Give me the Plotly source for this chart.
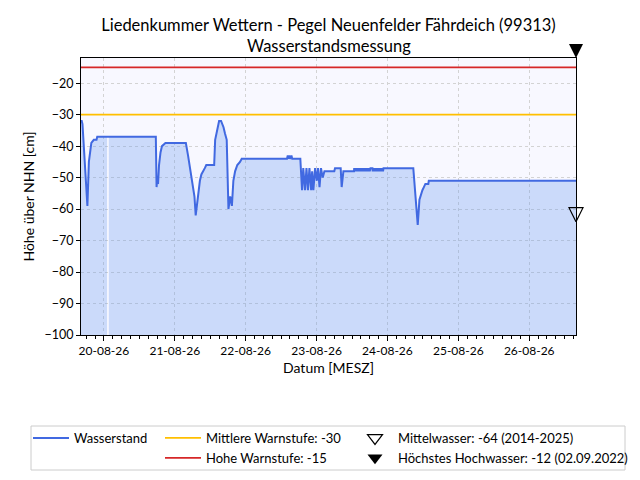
import plotly.graph_objects as go

# ---------------- data ----------------
zeit = [
    "2026-08-19 16:15", "2026-08-19 16:30", "2026-08-19 16:45", "2026-08-19 18:25",
    "2026-08-19 18:55", "2026-08-19 19:15", "2026-08-19 19:45", "2026-08-19 20:35",
    "2026-08-19 21:30", "2026-08-19 21:45",
    "2026-08-20 01:05", "2026-08-20 01:20", "2026-08-20 01:40",
    "2026-08-20 17:35", "2026-08-20 17:50", "2026-08-20 18:00", "2026-08-20 18:20",
    "2026-08-20 18:40", "2026-08-20 19:10", "2026-08-20 19:40", "2026-08-20 20:50",
    "2026-08-21 03:45", "2026-08-21 04:30", "2026-08-21 05:30", "2026-08-21 06:15",
    "2026-08-21 06:40", "2026-08-21 07:05", "2026-08-21 07:50", "2026-08-21 08:30",
    "2026-08-21 09:00", "2026-08-21 09:40", "2026-08-21 10:10", "2026-08-21 10:40",
    "2026-08-21 13:20", "2026-08-21 13:40", "2026-08-21 14:15", "2026-08-21 15:00",
    "2026-08-21 15:40", "2026-08-21 16:30", "2026-08-21 17:00", "2026-08-21 17:35",
    "2026-08-21 18:10", "2026-08-21 18:45", "2026-08-21 19:20", "2026-08-21 19:50",
    "2026-08-21 20:25", "2026-08-21 21:10", "2026-08-21 22:05", "2026-08-21 22:40",
    "2026-08-22 14:00", "2026-08-22 14:15", "2026-08-22 14:30", "2026-08-22 14:45",
    "2026-08-22 15:00", "2026-08-22 15:15", "2026-08-22 15:30", "2026-08-22 15:45",
    "2026-08-22 18:30", "2026-08-22 19:05", "2026-08-22 19:30", "2026-08-22 20:05",
    "2026-08-22 20:35", "2026-08-22 21:05", "2026-08-22 21:35", "2026-08-22 22:10",
    "2026-08-22 22:30", "2026-08-22 22:55", "2026-08-22 23:30",
    "2026-08-23 00:05", "2026-08-23 00:30", "2026-08-23 01:00", "2026-08-23 01:30",
    "2026-08-23 02:05", "2026-08-23 02:40", "2026-08-23 06:00", "2026-08-23 06:15",
    "2026-08-23 08:10", "2026-08-23 08:30", "2026-08-23 09:05", "2026-08-23 12:40",
    "2026-08-23 12:45", "2026-08-23 13:00", "2026-08-23 13:15", "2026-08-23 13:30",
    "2026-08-23 13:45", "2026-08-23 14:00", "2026-08-23 14:15", "2026-08-23 14:30",
    "2026-08-23 14:45", "2026-08-23 15:00", "2026-08-23 15:15", "2026-08-23 15:30",
    "2026-08-23 15:45", "2026-08-23 16:00", "2026-08-23 16:15", "2026-08-23 16:30",
    "2026-08-23 16:45", "2026-08-23 17:00", "2026-08-23 17:15", "2026-08-23 17:30",
    "2026-08-23 17:45", "2026-08-23 18:00", "2026-08-23 18:15", "2026-08-23 18:55",
    "2026-08-23 19:00", "2026-08-23 19:15", "2026-08-23 19:30", "2026-08-23 19:45",
    "2026-08-23 20:00", "2026-08-23 20:15", "2026-08-23 20:30", "2026-08-23 20:45",
    "2026-08-23 21:00", "2026-08-23 21:15", "2026-08-23 21:30", "2026-08-23 21:45",
    "2026-08-23 22:00", "2026-08-23 22:15", "2026-08-23 22:30", "2026-08-23 22:40",
    "2026-08-24 08:45", "2026-08-24 09:20", "2026-08-24 10:15", "2026-08-24 10:50",
    "2026-08-24 11:20", "2026-08-24 11:50", "2026-08-24 12:20", "2026-08-24 12:50",
    "2026-08-24 13:50", "2026-08-24 14:00",
    "2026-08-26 15:50",
]
wasserstand = [
    -32, -32, -33, -59,
    -45, -42, -39, -38,
    -38, -37,
    -37, None, -37,
    -37, -53, -51, -52,
    -46, -42, -40, -39,
    -39, -43, -49, -54,
    -56, -62, -55, -51,
    -49, -48, -47, -46,
    -46, -38, -35, -32,
    -32, -34, -36, -38,
    -60, -56, -59, -51,
    -48, -46, -45, -44,
    -44, -43, -44, -43,
    -44, -43, -43, -44,
    -44, -54, -47, -54,
    -47, -54, -47, -54,
    -48, -54, -47,
    -51, -47, -53, -47,
    -50, -48, -48, -47,
    -47, -53, -48, -48,
    -47, -48, -47, -48,
    -47, -48, -47, -48,
    -47, -48, -47, -48,
    -47, -48, -47, -48,
    -47, -48, -47, -48,
    -47, -48, -47, -47,
    -48, -47, -48, -47,
    -48, -47, -48, -47,
    -48, -47, -48, -47,
    -48, -47, -48, -47,
    -47, -54, -65, -57,
    -55, -54, -53, -52,
    -52, -51,
    -51,
]

mittlere_warnstufe = -30
hohe_warnstufe = -15
mittelwasser = -64
hoechstes_hochwasser = -12

y_min, y_max = -100, -12
y_ticks = [-100, -90, -80, -70, -60, -50, -40, -30, -20]

titel_1 = "Liedenkummer Wettern - Pegel Neuenfelder Fährdeich (99313)"
titel_2 = "Wasserstandsmessung"

# ---------------- layout geometry ----------------
W, H = 640, 480
M_L, M_R, M_T, M_B = 81, 64, 58, 145
plot_h = H - M_T - M_B

FONT = "Lato"
BLUE = "#4169E1"
FILL = "rgba(100,149,237,0.30)"
ORANGE = "#FFBF00"
RED = "#D62728"

# fill polygons (split on data gaps)
segments, cur = [], []
for t, v in zip(zeit, wasserstand):
    if v is None:
        if cur:
            segments.append(cur)
        cur = []
    else:
        cur.append((t, v))
if cur:
    segments.append(cur)

fx, fy = [], []
for seg in segments:
    xs = [p[0] for p in seg]
    ys = [p[1] for p in seg]
    fx += xs + xs[::-1] + [None]
    fy += ys + [y_min] * len(xs) + [None]

fig = go.Figure()

fig.add_trace(go.Scatter(x=fx, y=fy, fill="toself", fillcolor=FILL, mode="none",
                         line=dict(width=0), showlegend=False, hoverinfo="skip"))

fig.add_trace(go.Scatter(x=zeit, y=wasserstand, mode="lines", name="Wasserstand",
                         line=dict(color=BLUE, width=2), connectgaps=True,
                         legend="legend"))

x_first, x_last = zeit[0], zeit[-1]

fig.add_trace(go.Scatter(x=[x_first, x_last], y=[mittlere_warnstufe] * 2, mode="lines",
                         name=f"Mittlere Warnstufe: {mittlere_warnstufe}",
                         line=dict(color=ORANGE, width=1.8), legend="legend2"))
fig.add_trace(go.Scatter(x=[x_first, x_last], y=[hohe_warnstufe] * 2, mode="lines",
                         name=f"Hohe Warnstufe: {hohe_warnstufe}",
                         line=dict(color=RED, width=1.8), legend="legend2"))

# reference markers on the plot (arrow symbols put the tip on the value)
fig.add_trace(go.Scatter(x=[x_last], y=[mittelwasser], mode="markers", showlegend=False,
                         marker=dict(symbol="arrow-down-open", size=14, color="black",
                                     line=dict(width=1.2, color="black")),
                         cliponaxis=False, hoverinfo="skip"))
fig.add_trace(go.Scatter(x=[x_last], y=[hoechstes_hochwasser], mode="markers", showlegend=False,
                         marker=dict(symbol="arrow-down", size=14, color="black",
                                     line=dict(width=0)),
                         cliponaxis=False, hoverinfo="skip"))
# legend entries for the markers
fig.add_trace(go.Scatter(x=[None], y=[None], mode="markers",
                         name=f"Mittelwasser: {mittelwasser} (2014-2025)",
                         marker=dict(symbol="triangle-down-open", size=13, color="black",
                                     line=dict(width=1.2, color="black")),
                         legend="legend3"))
fig.add_trace(go.Scatter(x=[None], y=[None], mode="markers",
                         name=f"Höchstes Hochwasser: {hoechstes_hochwasser} (02.09.2022)",
                         marker=dict(symbol="triangle-down", size=13, color="black"),
                         legend="legend3"))

def px_x(p):
    return (p - M_L) / (W - M_L - M_R)

def px_y(p):
    return (H - M_B - p) / plot_h

leg_common = dict(xanchor="left", yanchor="top", bgcolor="rgba(0,0,0,0)",
                  font=dict(family=FONT, size=13, color="black"), itemwidth=36,
                  orientation="v", tracegroupgap=0)

fig.update_layout(
    width=W, height=H,
    margin=dict(l=M_L, r=M_R, t=M_T, b=M_B, autoexpand=False),
    paper_bgcolor="white",
    plot_bgcolor="#F8F8FF",
    font=dict(family=FONT, size=13, color="black"),
    title=dict(text=titel_1, x=0.5, xref="paper", xanchor="center",
               y=1 - 25.5 / H, yref="container", yanchor="middle",
               font=dict(family=FONT, size=16.5, color="black")),
    annotations=[dict(text=titel_2, x=0.5, xref="paper", xanchor="center",
                      y=px_y(45.5), yref="paper", yanchor="middle", showarrow=False,
                      font=dict(family=FONT, size=16.5, color="black"))],
    legend=dict(x=px_x(28), y=px_y(423), **leg_common),
    legend2=dict(x=px_x(160), y=px_y(423), **leg_common),
    legend3=dict(x=px_x(352), y=px_y(423), **leg_common),
    shapes=[dict(type="rect", xref="paper", yref="paper",
                 x0=px_x(31), x1=px_x(625), y0=px_y(470), y1=px_y(426),
                 line=dict(color="#CCCCCC", width=1), fillcolor="rgba(0,0,0,0)")],
    showlegend=True,
)

fig.update_xaxes(
    range=[x_first, x_last], type="date",
    tick0="2026-08-20", dtick=86400000, tickformat="%d-%m-%y",
    ticks="outside", ticklen=5, tickcolor="black", tickwidth=1,
    minor=dict(dtick=3 * 3600000, ticks="outside", ticklen=2.5, tickcolor="black", showgrid=False),
    showline=True, linecolor="black", linewidth=1, mirror=True,
    showgrid=True, gridcolor="#D3D3D3", griddash="dot", gridwidth=1,
    zeroline=False,
    title=dict(text="Datum [MESZ]", font=dict(family=FONT, size=14), standoff=5),
    tickfont=dict(family=FONT, size=12),
)
fig.update_yaxes(
    range=[y_min, y_max], tickvals=y_ticks,
    ticks="outside", ticklen=4, tickcolor="black",
    showline=True, linecolor="black", linewidth=1, mirror=True,
    showgrid=True, gridcolor="#D3D3D3", griddash="dot", gridwidth=1,
    zeroline=False,
    title=dict(text="Höhe über NHN [cm]", font=dict(family=FONT, size=14), standoff=6),
    tickfont=dict(family=FONT, size=12.5),
)

fig.write_html("out.html", config={"displayModeBar": False},
               post_script="document.body.style.margin='0px';")
